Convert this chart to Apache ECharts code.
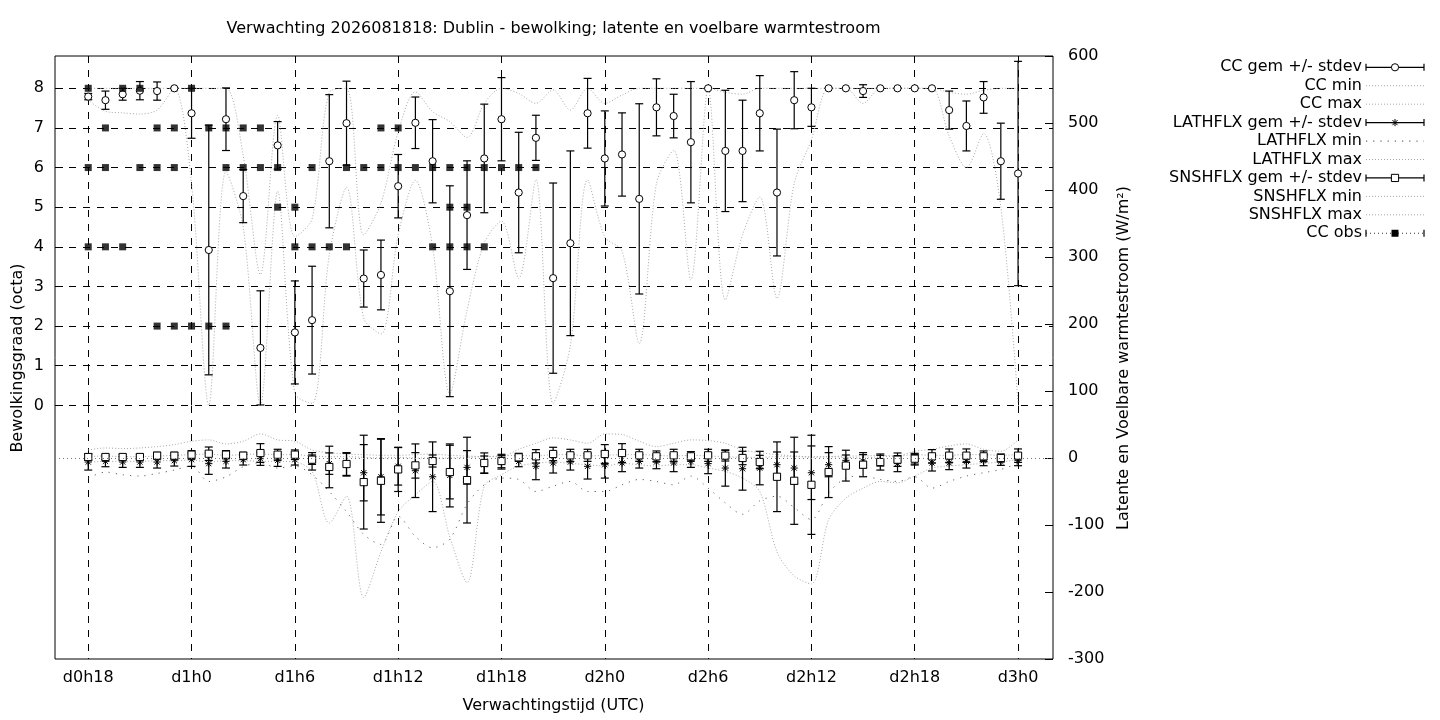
<!DOCTYPE html>
<html>
<head>
<meta charset="utf-8">
<script src="https://cdn.jsdelivr.net/npm/echarts@6/dist/echarts.min.js"></script>
<style>
html,body{margin:0;padding:0;background:#fff;}
#chart{width:1440px;height:720px;}
</style>
</head>
<body>
<div id="chart"></div>
<script>
// ---------- data ----------
const hours = [18,19,20,21,22,23,24,25,26,27,28,29,30,31,32,33,34,35,36,37,38,39,40,41,42,43,44,45,
  46,47,48,49,50,51,52,53,54,55,56,57,58,59,60,61,62,63,64,65,66,67,68,69,70,71,72];
const tickHours = [18,24,30,36,42,48,54,60,66,72];
const octaTicks = [0,1,2,3,4,5,6,7,8];

// cloud cover (octa)
const ccMean = [7.79,7.70,7.85,7.94,7.93,8.00,7.37,3.92,7.22,5.28,
  1.45,6.56,1.84,2.15,6.16,7.12,3.20,3.29,5.53,7.13,
  6.16,2.88,4.80,6.23,7.22,5.37,6.75,3.21,4.09,7.37,
  6.23,6.33,5.21,7.52,7.30,6.64,8.00,6.42,6.42,7.37,
  5.37,7.70,7.52,8.00,8.00,7.93,8.00,8.00,8.00,8.00,
  7.45,7.05,7.77,6.16,5.85];
const ccSd = [0.08,0.23,0.15,0.23,0.23,0,0.63,3.15,0.79,0.67,
  1.44,0.60,1.30,1.36,1.68,1.06,0.72,0.88,0.80,0.65,
  1.05,2.66,1.37,1.37,1.05,1.52,0.57,2.40,2.33,0.88,
  1.20,1.05,2.40,0.72,0.55,1.53,0,1.53,1.28,0.95,
  1.60,0.72,0.48,0,0,0.16,0,0,0,0,
  0.48,0.63,0.40,0.96,2.83];
const ccMin = [7.70,7.42,7.38,7.35,7.45,8.00,5.60,0.00,5.90,4.50,
  0.00,5.40,0.30,0.05,3.80,5.50,2.20,1.80,4.30,5.68,
  4.00,0.30,2.40,4.10,4.65,3.20,5.70,0.05,1.50,5.69,
  4.25,3.90,1.56,5.60,6.44,3.16,8.00,2.66,4.30,5.26,
  2.70,5.60,6.70,8.00,8.00,7.62,8.00,8.00,8.00,8.00,
  6.80,6.00,6.86,5.00,0.05];
const ccMax = [8,8,8,8,8,8,8,8,8,6.3,
  3.3,7.32,4.25,4.7,7.9,8,4.3,5.1,6.9,7.91,
  7.41,7.16,6.76,7.62,8,7.87,7.62,7.96,7.45,8,
  7.62,7.83,8,8,8,8,8,7.9,7.85,8,
  8,8,8,8,8,8,8,8,8,8,
  7.9,7.85,7.95,8,8];

// observed cloud cover (octa), several observations per hour
const obsHour = [18,18,18,19,19,19,20,20,21,21,22,22,22,23,23,23,24,24,25,25,26,26,26,27,27,
  28,28,29,29,30,30,31,31,32,33,33,34,35,35,36,36,37,38,38,39,39,39,40,40,40,41,41,42,43,44];
const obsCC = [8,6,4,7,6,4,8,4,8,6,7,6,2,7,6,2,8,2,7,2,7,6,2,7,6,
  7,6,6,5,5,4,6,4,4,6,4,6,7,6,7,6,6,6,4,6,5,4,6,5,4,6,4,6,6,6];

// latent heat flux (W/m2)
const latMean = [-6,-5,-6,-6,-6,-4,-2.5,-8.4,-5,-2.5,
  -1,-3.5,-2.5,-5,-8.4,-10,-22,-28,-12.4,-19,
  -28,-26,-14,-10,-6.5,-5,-12.4,-7.4,-6,-12.4,
  -10,-7.4,-5,-6,-7.4,-5,-8.4,-15,-16,-15,
  -10,-15,-22,-10,-3.5,-5,-4,-8.4,-2.5,-7.4,
  -7.4,-5,-3.5,-5,-3.5];
const latSd = [12,8,8,8,9,8,10,16,10,8,
  10,9,8,13,16,17,42,57,28,40,
  52,47,25,13,10,8,20,15,12,19,
  20,13,10,10,13,9,15,27,32,25,
  19,24,40,18,8,10,8,12,8,12,
  10,10,8,6,8];
const latMin = [-30,-21,-25,-27,-23,-18,-12,-35,-28,-13,
  -7,-15,-12,-25,-50,-80,-114,-129,-87,-117,
  -134,-121,-69,-40,-30,-32,-50,-42,-35,-50,
  -50,-40,-32,-35,-40,-27,-45,-67,-84,-64,
  -57,-74,-92,-52,-30,-27,-32,-35,-28,-45,
  -35,-27,-22,-17,-8];
const latMax = [2,3,2,2,3,4,5,6,4,5,
  6,5,5,3,2,2,1,0,1,0,
  0,0,1,2,3,4,3,5,5,3,
  4,5,5,4,3,4,3,2,1,1,
  2,2,1,2,3,3,4,3,5,4,
  4,5,5,4,5];

// sensible heat flux (W/m2)
const snsMean = [1.5,1.5,1.5,1.5,3.5,3.5,5,6.4,5,3.5,
  7.4,5,5,-2.5,-13.4,-9,-36,-34,-17,-11,
  -4.5,-21,-33,-7.4,-4.5,1,2.5,6,4,4,
  6,7.4,4,2.5,4,2.5,4,3.5,0,-6,
  -28,-34,-40,-21,-11.4,-10,-6,-2.5,-1,2.5,
  3.5,3.5,2.5,0,3.5];
const snsSd = [5,4,4,4,5,5,6,10,6,5,
  14,8,7,7,31,17,70,62,33,19,
  9,40,64,15,10,6,10,10,9,9,
  14,14,9,8,9,7,9,8,10,10,
  52,65,74,38,23,18,12,10,8,10,
  10,10,8,6,10];
const snsMin = [-6,-5,-5,-5,-4,-4,-3,-6,-4,-4,
  -5,-5,-6,-20,-97,-57,-208,-140,-80,-55,
  -35,-118,-186,-42,-25,-12,-8,-6,-8,-10,
  -12,-8,-10,-12,-10,-10,-15,-20,-30,-50,
  -140,-176,-188,-92,-60,-45,-35,-37,-27,-15,
  -12,-10,-8,-6,-2];
const snsMax = [12,15,14,15,17,20,25,27,21,25,
  36,27,25,12,8,6,5,4,4,5,
  6,4,3,2,2,13,22,30,27,22,
  36,35,25,17,22,27,26,22,12,8,
  5,3,2,2,1,0,2,3,10,13,
  18,21,13,10,27];

const legendNames = ['CC gem +/- stdev','CC min','CC max','LATHFLX gem +/- stdev','LATHFLX min',
  'LATHFLX max','SNSHFLX gem +/- stdev','SNSHFLX min','SNSHFLX max','CC obs'];

// ---------- drawing ----------
const FONT = 'DejaVu Sans';
const FS = 16;
const FONTCSS = FS + 'px "DejaVu Sans"';
const LIGHT = '#a8a8a8';
const DARK = '#666666';

function markerShape(kind, cx, cy) {
  const st = {stroke:'#000', lineWidth:1, fill:'#fff'};
  if (kind === 'circle') return {type:'circle', shape:{cx:cx, cy:cy, r:3.6}, style:st};
  if (kind === 'square') return {type:'rect', shape:{x:cx-3.6, y:cy-3.6, width:7.2, height:7.2}, style:st};
  if (kind === 'fsquare') return {type:'rect', shape:{x:cx-3.5, y:cy-3.5, width:7, height:7}, style:{fill:'#000', stroke:'#000', lineWidth:0}};
  const r = 3.6, d = 2.6, ls = {stroke:'#000', lineWidth:1};
  return {type:'group', children:[
    {type:'line', shape:{x1:cx-r, y1:cy, x2:cx+r, y2:cy}, style:ls},
    {type:'line', shape:{x1:cx, y1:cy-r, x2:cx, y2:cy+r}, style:ls},
    {type:'line', shape:{x1:cx-d, y1:cy-d, x2:cx+d, y2:cy+d}, style:ls},
    {type:'line', shape:{x1:cx-d, y1:cy+d, x2:cx+d, y2:cy-d}, style:ls}
  ]};
}

function errRender(kind) {
  return function (params, api) {
    const x = api.value(0), m = api.value(1), s = api.value(2);
    const pm = api.coord([x, m]);
    const pt = api.coord([x, m + s]);
    const pb = api.coord([x, m - s]);
    const cw = 4;
    const st = {stroke:'#000', lineWidth:1.2};
    return {type:'group', children:[
      {type:'line', shape:{x1:pm[0], y1:pt[1], x2:pm[0], y2:pb[1]}, style:st},
      {type:'line', shape:{x1:pm[0]-cw, y1:pt[1], x2:pm[0]+cw, y2:pt[1]}, style:st},
      {type:'line', shape:{x1:pm[0]-cw, y1:pb[1], x2:pm[0]+cw, y2:pb[1]}, style:st},
      markerShape(kind, pm[0], pm[1])
    ]};
  };
}

function triples(mean, sd) { return hours.map((h, i) => [h, mean[i], sd[i]]); }
function pairs(arr) { return hours.map((h, i) => [h, arr[i]]); }

function dottedLine(name, arr, yIdx, color, dash) {
  return {
    name: name, type:'line', yAxisIndex:yIdx, data:pairs(arr), showSymbol:false, smooth:0.3,
    lineStyle:{color:color, width:1, type:dash}, z:1, silent:true, animation:false
  };
}

// legend (gnuplot style: text right-aligned, sample on the right)
const legendGraphics = [];
const LX1 = 1366, LX2 = 1424, LXM = 1395, LTX = 1362, LY0 = 67.3, LDY = 18.44;
const sampleKinds = ['circle','thin','thin','star','sparse','thin','square','thin','thin','obs'];
legendNames.forEach((name, i) => {
  const y = LY0 + i * LDY;
  legendGraphics.push({type:'text', x:LTX, y:y, style:{text:name, font:FONTCSS, fill:'#000',
    textAlign:'right', textVerticalAlign:'middle', align:'right', verticalAlign:'middle'}});
  const k = sampleKinds[i];
  if (k === 'thin') {
    legendGraphics.push({type:'line', shape:{x1:LX1, y1:y, x2:LX2, y2:y}, style:{stroke:LIGHT, lineWidth:1, lineDash:[1,2]}});
  } else if (k === 'sparse') {
    legendGraphics.push({type:'line', shape:{x1:LX1, y1:y, x2:LX2, y2:y}, style:{stroke:DARK, lineWidth:1.2, lineDash:[1.2,6]}});
  } else {
    const ls = k === 'obs' ? {stroke:'#333', lineWidth:1, lineDash:[1,3]} : {stroke:'#000', lineWidth:1.2};
    legendGraphics.push({type:'line', shape:{x1:LX1, y1:y, x2:LX2, y2:y}, style:ls});
    legendGraphics.push({type:'line', shape:{x1:LX1, y1:y-3.5, x2:LX1, y2:y+3.5}, style:{stroke:'#000', lineWidth:1.2}});
    legendGraphics.push({type:'line', shape:{x1:LX2, y1:y-3.5, x2:LX2, y2:y+3.5}, style:{stroke:'#000', lineWidth:1.2}});
    legendGraphics.push(markerShape(k === 'obs' ? 'fsquare' : k, LXM, y));
  }
});

const textStyle = (t) => ({text:t, font:FONTCSS, fill:'#000', textAlign:'center', textVerticalAlign:'middle', align:'center', verticalAlign:'middle'});

const chart = echarts.init(document.getElementById('chart'), null, {renderer:'canvas'});
const option = {
  animation:false,
  backgroundColor:'#fff',
  grid:{left:55, right:387, top:56, bottom:61, show:true, borderColor:'#000', borderWidth:1, backgroundColor:'transparent'},
  xAxis:{
    type:'value', min:16.07, max:74.03,
    axisLine:{show:false},
    axisTick:{show:true, inside:true, length:8, customValues:tickHours, lineStyle:{color:'#000', width:1}},
    axisLabel:{customValues:tickHours, formatter:(v) => 'd' + Math.floor(v / 24) + 'h' + (v % 24),
      color:'#000', fontFamily:FONT, fontSize:FS, margin:11},
    splitLine:{show:true, lineStyle:{color:'#000', width:1, type:[7,7]}}
  },
  yAxis:[
    {type:'value', min:-6.40, max:8.815, position:'left',
      axisLine:{show:false},
      axisTick:{show:true, inside:true, length:8, customValues:octaTicks, lineStyle:{color:'#000'}},
      axisLabel:{customValues:octaTicks, color:'#000', fontFamily:FONT, fontSize:FS, margin:11},
      splitLine:{show:true, lineStyle:{color:'#000', width:1, type:[7,7]}}},
    {type:'value', min:-300, max:600, interval:100, position:'right',
      axisLine:{show:false},
      axisTick:{show:true, inside:true, length:8, lineStyle:{color:'#000'}},
      axisLabel:{color:'#000', fontFamily:FONT, fontSize:FS, margin:15},
      splitLine:{show:false}}
  ],
  graphic:[
    {type:'text', x:553.5, y:29, style:textStyle('Verwachting 2026081818: Dublin - bewolking; latente en voelbare warmtestroom')},
    {type:'text', x:553.5, y:706, style:textStyle('Verwachtingstijd (UTC)')},
    {type:'text', x:18, y:358, rotation:Math.PI/2, style:textStyle('Bewolkingsgraad (octa)')},
    {type:'text', x:1124, y:358, rotation:Math.PI/2, style:textStyle('Latente en Voelbare warmtestroom (W/m²)')}
  ].concat(legendGraphics),
  series:[
    {name:legendNames[0], type:'custom', yAxisIndex:0, data:triples(ccMean, ccSd), renderItem:errRender('circle'),
      encode:{x:0, y:1}, z:3, silent:true},
    dottedLine(legendNames[1], ccMin, 0, LIGHT, [1,2]),
    dottedLine(legendNames[2], ccMax, 0, LIGHT, [1,2]),
    {name:legendNames[3], type:'custom', yAxisIndex:1, data:triples(latMean, latSd), renderItem:errRender('star'),
      encode:{x:0, y:1}, z:3, silent:true},
    dottedLine(legendNames[4], latMin, 1, DARK, [1.2,6]),
    Object.assign(dottedLine(legendNames[5], latMax, 1, LIGHT, [1,2]), {
      markLine:{silent:true, symbol:'none', label:{show:false}, animation:false,
        lineStyle:{color:'#777', width:1, type:[1,3]}, data:[{yAxis:0}]}
    }),
    {name:legendNames[6], type:'custom', yAxisIndex:1, data:triples(snsMean, snsSd), renderItem:errRender('square'),
      encode:{x:0, y:1}, z:3, silent:true},
    dottedLine(legendNames[7], snsMin, 1, LIGHT, [1,2]),
    dottedLine(legendNames[8], snsMax, 1, LIGHT, [1,2]),
    {name:legendNames[9], type:'scatter', yAxisIndex:0, data:obsHour.map((h, i) => [h, obsCC[i]]),
      symbol:'rect', symbolSize:7, itemStyle:{color:'#000'}, z:4, silent:true}
  ]
};
chart.setOption(option);
</script>
</body>
</html>
